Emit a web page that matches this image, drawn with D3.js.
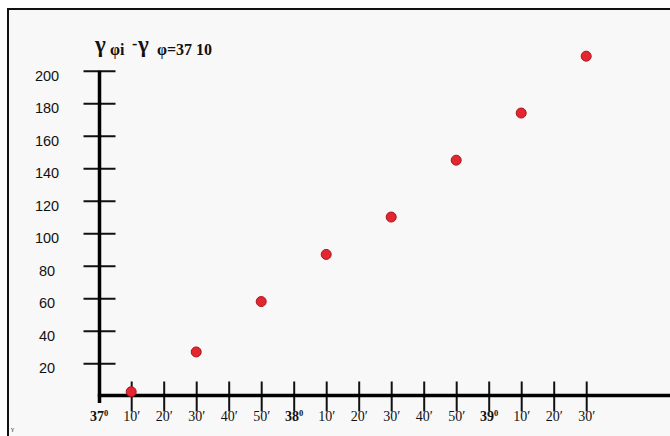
<!DOCTYPE html>
<html><head><meta charset="utf-8">
<script src="https://cdn.jsdelivr.net/npm/d3@7"></script>
<style>
html,body{margin:0;padding:0;background:#fff;}
svg{display:block;}
</style></head>
<body>
<svg id="chart" width="670" height="436"></svg>
<script>
// ---- data ----
// x positions: minutes of arc past 37°00′
const pointMinutes = [10, 30, 50, 70, 90, 110, 130, 150];
const pointValues  = [2.5, 27, 58, 87, 110, 145, 174, 209];
const xTickMinutes = [0,10,20,30,40,50,60,70,80,90,100,110,120,130,140,150];
const xTickLabels  = ["37⁰","10′","20′","30′","40′","50′","38⁰","10′","20′","30′","40′","50′","39⁰","10′","20′","30′"];
const yTickValues  = [20,40,60,80,100,120,140,160,180,200];

const svg = d3.select("#chart");
// scanned page background with border
svg.append("rect").attr("x",8).attr("y",9).attr("width",670).attr("height",440)
  .attr("fill","#f8f8f8").attr("stroke","#111").attr("stroke-width",2);

const x = d3.scaleLinear().domain([0,150]).range([98.7, 586.2]);
const y = d3.scaleLinear().domain([0,200]).range([395.8, 70.8]);
const ax0 = 99.5, ay0 = 395.5;

// y axis
const gy = svg.append("g").attr("transform",`translate(${ax0},0)`)
  .call(d3.axisLeft(y).tickValues(yTickValues).tickSizeInner(16).tickSizeOuter(0).tickPadding(0));
gy.select(".domain").remove();
gy.selectAll(".tick line").attr("x1",16).attr("stroke","#111").attr("stroke-width",2);
gy.selectAll(".tick text").attr("x",-52.5).attr("dy","0.72em").attr("y",-1)
  .attr("text-anchor","middle").attr("font-family","Liberation Sans, Arial, sans-serif")
  .attr("font-size",14.5).attr("fill","#111");

// x axis
const gx = svg.append("g").attr("transform",`translate(0,${ay0})`)
  .call(d3.axisBottom(x).tickValues(xTickMinutes).tickSizeInner(16).tickSizeOuter(0).tickFormat(""));
gx.select(".domain").remove();
gx.selectAll(".tick line").attr("y1",-14).attr("stroke","#111").attr("stroke-width",2);
gx.selectAll(".tick").filter(d => d===0).select("line").remove();
gx.selectAll(".tick text").remove();
gx.selectAll(".tick").each(function(d,i){
  const lab = xTickLabels[i];
  const isDeg = lab.indexOf("⁰")>=0;
  const t = d3.select(this).append("text").attr("y",25).attr("text-anchor","middle")
    .attr("font-family","Liberation Serif, Times New Roman, serif").attr("font-size",14)
    .attr("fill","#111");
  if(isDeg){
    t.attr("font-weight","bold");
    t.append("tspan").text(lab.replace("⁰",""));
    t.append("tspan").attr("font-size",8.5).attr("dy",-5).text("0");
  } else {
    t.text(lab);
  }
});

// axis lines
svg.append("line").attr("x1",ax0).attr("x2",ax0).attr("y1",y(200)).attr("y2",403)
  .attr("stroke","#000").attr("stroke-width",3.5);
svg.append("line").attr("x1",ax0-1.7).attr("x2",670).attr("y1",ay0).attr("y2",ay0)
  .attr("stroke","#000").attr("stroke-width",3.5);

// points
svg.append("g").selectAll("circle").data(pointMinutes).join("circle")
  .attr("cx",(d)=>x(d)).attr("cy",(d,i)=>y(pointValues[i])).attr("r",5)
  .attr("fill","#e3262f").attr("stroke","#a8141c").attr("stroke-width",1);

// title
const title = svg.append("text")
  .attr("font-family","Liberation Serif, Times New Roman, serif").attr("font-weight","bold").attr("fill","#111");
title.append("tspan").attr("x",95).attr("y",52).attr("font-size",23).text("γ");
title.append("tspan").attr("x",110).attr("y",55).attr("font-size",16).text("φi");
title.append("tspan").attr("x",132).attr("y",49).attr("font-size",16).text("-");
title.append("tspan").attr("x",138).attr("y",52).attr("font-size",23).text("γ");
title.append("tspan").attr("x",157).attr("y",55).attr("font-size",16).text("φ=37 10");

// small stray mark bottom-left
svg.append("text").attr("x",11).attr("y",431).attr("font-size",7)
  .attr("font-family","Liberation Serif, serif").attr("fill","#333").text("γ");
</script>
</body></html>
